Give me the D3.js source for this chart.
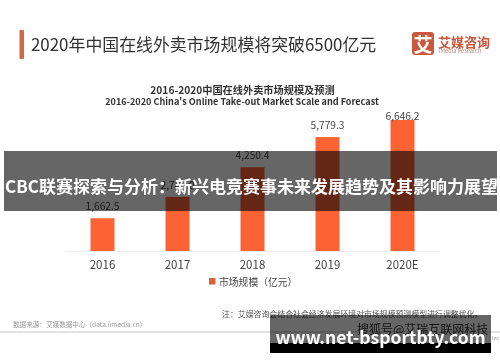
<!DOCTYPE html>
<html lang="zh">
<head>
    <meta charset="UTF-8">
    <title>2020年中国在线外卖市场规模</title>
    <style>
        html, body {margin: 0; padding: 0; background: #fff;}
        svg {display: block; font-family: "Noto Sans CJK SC", "Noto Sans", sans-serif;}
        .x.axis path {stroke: #eeeeee;}
        .x.axis line {display: none;}
        .x.axis text {font-family: "Noto Sans CJK SC", "Noto Sans", sans-serif; font-size: 11.5px; fill: #444;}
    </style>
</head>
<body>
    <div id="chart-container"></div>
    <script src="https://d3js.org/d3.v7.min.js"></script>
    <script>
        const WIDTH = 500;
        const HEIGHT = 362;
        const BASELINE = 251;

        const years = ["2016", "2017", "2018", "2019", "2020E"];
        const marketScale = [1662.5, 2745.0, 4250.4, 5779.3, 6646.2];
        const legendLabel = "市场规模（亿元）";

        const svg = d3.select("#chart-container").append("svg")
        .attr("width", WIDTH)
        .attr("height", HEIGHT);

        svg.append("filter").attr("id", "soft")
        .append("feGaussianBlur").attr("stdDeviation", 0.55);

        const g = svg.append("g").attr("filter", "url(#soft)");

        function addText(parent, str, x, y, size, fill, opts = {}) {
            return parent.append("text")
            .attr("x", x)
            .attr("y", y)
            .attr("font-size", size)
            .attr("fill", fill)
            .attr("font-weight", opts.weight || "normal")
            .attr("text-anchor", opts.anchor || "start")
            .attr("dominant-baseline", "central")
            .text(str);
        }

        // header
        g.append("rect").attr("x", 19.5).attr("y", 30).attr("width", 4.5).attr("height", 29)
        .attr("rx", 1).attr("fill", "#cb6a42");
        addText(g, "2020年中国在线外卖市场规模将突破6500亿元", 31, 43, 16.9, "#333");

        // logo
        g.append("rect").attr("x", 412).attr("y", 32).attr("width", 22).attr("height", 23)
        .attr("rx", 3).attr("fill", "#c9583c");
        addText(g, "艾", 423, 43.5, 19, "#fff", {anchor: "middle", weight: "bold"});
        addText(g, "艾媒咨询", 438, 41, 13, "#c9583c", {weight: "bold"});
        addText(g, "iMedia Research", 439, 51, 5.6, "#b98a7c");

        // chart titles
        addText(g, "2016-2020中国在线外卖市场规模及预测", 242.5, 89, 10.2, "#333", {anchor: "middle", weight: "bold"});
        addText(g, "2016-2020 China's Online Take-out Market Scale and Forecast", 242, 101, 9.1, "#333", {anchor: "middle", weight: "bold"});

        const x = d3.scaleBand()
        .domain(years)
        .range([65, 440])
        .paddingInner(0.68)
        .paddingOuter(0.34);

        const y = d3.scaleLinear()
        .domain([0, 6646.2])
        .range([BASELINE, 120]);

        const xAxisCall = d3.axisBottom(x).tickSize(0).tickPadding(10);
        g.append("g").attr("class", "x axis")
        .attr("transform", `translate(0,${BASELINE})`)
        .call(xAxisCall);

        const rows = years.map((year, i) => ({year, value: marketScale[i]}));

        g.selectAll("rect.bar").data(rows).enter().append("rect")
        .attr("class", "bar")
        .attr("x", d => x(d.year))
        .attr("y", d => y(d.value))
        .attr("width", x.bandwidth())
        .attr("height", d => BASELINE - y(d.value))
        .attr("fill", "#fb6434");

        // the 2020E label sits on the top edge of its bar in the original
        g.selectAll("text.value").data(rows).enter().append("text")
        .attr("class", "value")
        .attr("x", d => x(d.year) + x.bandwidth() / 2)
        .attr("y", d => y(d.value) - (d.year === "2020E" ? 0 : 8))
        .attr("text-anchor", "middle")
        .attr("font-size", 10.2)
        .attr("fill", "#444")
        .text(d => d3.format(",.1f")(d.value));

        // legend
        g.append("rect").attr("x", 209).attr("y", 278).attr("width", 6.5).attr("height", 6.5).attr("fill", "#d9623a");
        addText(g, legendLabel, 219, 282, 9.8, "#444");

        // notes
        addText(g, "注：艾媒咨询会结合社会经济发展环境对市场规模预测模型进行调整优化。", 222, 313, 7.9, "#555");
        addText(g, "数据来源：艾媒数据中心（data.iimedia.cn）", 13, 324, 6.6, "#999");
        g.append("line").attr("x1", 0).attr("x2", WIDTH).attr("y1", 332).attr("y2", 332)
        .attr("stroke", "#c4c4c4").attr("stroke-width", 1);
        addText(g, "搜狐号@艾瑞互联网科技", 357, 328, 12, "#333");
        addText(g, "Inc", 492, 337, 5, "#999");

        // overlay banners
        svg.append("rect").attr("x", 4).attr("y", 151).attr("width", 493).attr("height", 60)
        .attr("fill", "#000").attr("fill-opacity", 0.6);
        addText(svg, "CBC联赛探索与分析：新兴电竞赛事未来发展趋势及其影响力展望", 5, 185, 17, "#fff", {weight: "bold"});

        svg.append("rect").attr("x", 270).attr("y", 315).attr("width", 221).attr("height", 28)
        .attr("fill", "#000").attr("fill-opacity", 0.6);
        svg.append("rect").attr("x", 270).attr("y", 343).attr("width", 221).attr("height", 10)
        .attr("fill", "#000");
        addText(svg, "www.net-bsportbty.com", 380.5, 336, 17.5, "#fff", {anchor: "middle", weight: "bold"});
    </script>
</body>
</html>
